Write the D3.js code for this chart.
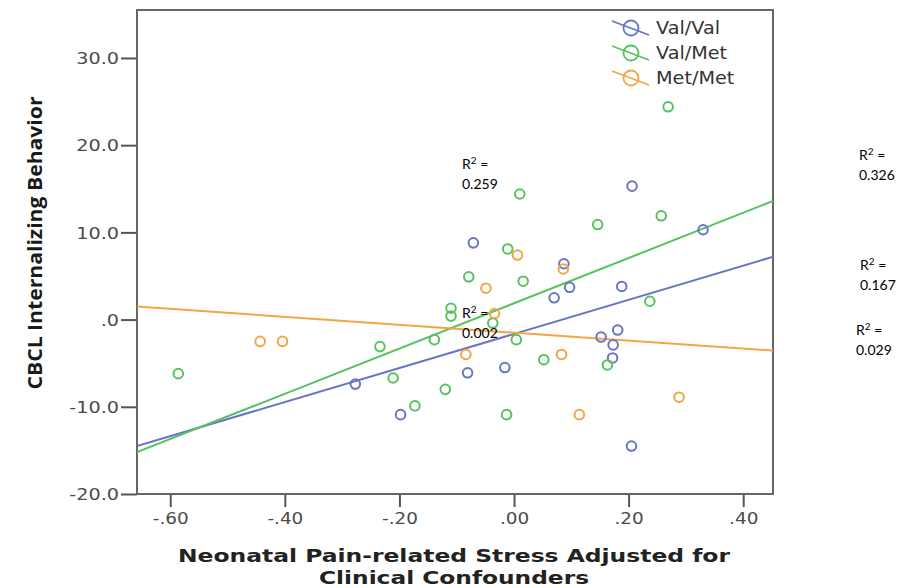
<!DOCTYPE html>
<html>
<head>
<meta charset="utf-8">
<script src="https://cdn.jsdelivr.net/npm/d3@7"></script>
<style>
  html, body { margin: 0; padding: 0; background: #fff; }
  svg { display: block; }
</style>
</head>
<body>
<svg id="chart" width="911" height="588"></svg>
<script>
// ---------------- data ----------------
const groups = ["Val/Val", "Val/Met", "Met/Met"];
const groupColors = ["#6a74c6", "#55c25f", "#f6a443"];

const valValPoints = [
  [-0.071, 8.8], [0.206, 15.3], [0.330, 10.3], [0.087, 6.4], [0.070, 2.5],
  [0.097, 3.7], [0.188, 3.8], [0.181, -1.2], [0.152, -2.0], [0.173, -2.9],
  [0.172, -4.4], [-0.016, -5.5], [-0.081, -6.1], [-0.277, -7.4], [-0.198, -10.9],
  [0.205, -14.5]
];
const valMetPoints = [
  [0.269, 24.4], [0.010, 14.4], [0.257, 11.9], [0.146, 10.9], [-0.011, 8.1],
  [-0.079, 4.9], [0.016, 4.4], [0.237, 2.1], [-0.110, 1.3], [-0.110, 0.4],
  [-0.037, -0.4], [-0.234, -3.1], [-0.139, -2.3], [0.004, -2.3], [0.052, -4.6],
  [0.163, -5.2], [-0.586, -6.2], [-0.211, -6.7], [-0.120, -8.0], [-0.173, -9.9],
  [-0.013, -10.9]
];
const metMetPoints = [
  [0.006, 7.4], [0.086, 5.8], [-0.049, 3.6], [-0.034, 0.7], [-0.443, -2.5],
  [-0.404, -2.5], [-0.084, -4.0], [0.083, -4.0], [0.114, -10.9], [0.288, -8.9]
];
const groupPoints = [valValPoints, valMetPoints, metMetPoints];

// fit lines: [intercept, slope]
const fitIntercepts = [-1.64, 1.87, -1.50];
const fitSlopes = [19.55, 25.95, -4.54];

const xTicks = [-0.6, -0.4, -0.2, 0.0, 0.2, 0.4];
const yTicks = [-20, -10, 0, 10, 20, 30];
const xDomain = [-0.658, 0.452];
const yDomain = [-20, 35.5];

const r2Labels = ["0.259", "0.002", "0.326", "0.167", "0.029"];

const xTitleLines = ["Neonatal Pain-related Stress Adjusted for", "Clinical Confounders"];
const yTitle = "CBCL Internalizing Behavior";

// ---------------- layout ----------------
const svg = d3.select("#chart");
const plot = { left: 137, top: 10, right: 773, bottom: 494 };

const x = d3.scaleLinear().domain(xDomain).range([plot.left, plot.right]);
const y = d3.scaleLinear().domain(yDomain).range([plot.bottom, plot.top]);

function stretch(sel, k) {
  sel.each(function () {
    const len = this.getComputedTextLength();
    d3.select(this).attr("textLength", len * k).attr("lengthAdjust", "spacingAndGlyphs");
  });
}

// clip
svg.append("defs").append("clipPath").attr("id", "clip")
  .append("rect").attr("x", plot.left).attr("y", plot.top)
  .attr("width", plot.right - plot.left).attr("height", plot.bottom - plot.top);

// axes (SPSS-style: no leading zero, ASCII hyphen)
const spssFmt = digits => v => {
  const s = Math.abs(v).toFixed(digits).replace(/^0\./, ".");
  return (v < 0 ? "-" : "") + s;
};
const fmtY = spssFmt(1);
const fmtX = spssFmt(2);

const yAxis = svg.append("g").attr("transform", `translate(${plot.left},0)`)
  .call(d3.axisLeft(y).tickValues(yTicks).tickFormat(fmtY).tickSize(16).tickPadding(2));
const xAxis = svg.append("g").attr("transform", `translate(0,${plot.bottom})`)
  .call(d3.axisBottom(x).tickValues(xTicks).tickFormat(fmtX).tickSize(13).tickPadding(4));

[yAxis, xAxis].forEach(a => {
  a.select(".domain").remove();
  a.selectAll(".tick line").attr("stroke", "#555").attr("stroke-width", 2);
  a.selectAll(".tick text").attr("fill", "#4a4a4a")
    .style("font-family", "'DejaVu Sans', Verdana, sans-serif").style("font-size", "16px");
});
yAxis.selectAll(".tick text").attr("dy", "0.36em");
xAxis.selectAll(".tick text").attr("dy", "0.8em");
stretch(yAxis.selectAll(".tick text"), 1.2);
stretch(xAxis.selectAll(".tick text"), 1.15);

// frame
svg.append("rect")
  .attr("x", plot.left).attr("y", plot.top)
  .attr("width", plot.right - plot.left).attr("height", plot.bottom - plot.top)
  .attr("fill", "none").attr("stroke", "#666").attr("stroke-width", 2);

// fit lines
const gLines = svg.append("g").attr("clip-path", "url(#clip)");
groups.forEach((g, i) => {
  const xs = xDomain;
  gLines.append("line")
    .attr("x1", x(xs[0])).attr("y1", y(fitIntercepts[i] + fitSlopes[i] * xs[0]))
    .attr("x2", x(xs[1])).attr("y2", y(fitIntercepts[i] + fitSlopes[i] * xs[1]))
    .attr("stroke", groupColors[i]).attr("stroke-width", 2);
});

// points
const gPts = svg.append("g").attr("clip-path", "url(#clip)");
groups.forEach((g, i) => {
  gPts.selectAll(null).data(groupPoints[i]).enter().append("circle")
    .attr("cx", d => x(d[0])).attr("cy", d => y(d[1])).attr("r", 4.8)
    .attr("fill", "none").attr("stroke", groupColors[i]).attr("stroke-width", 2);
});

// legend
const legendRows = [28, 53, 78];
groups.forEach((g, i) => {
  const cy = legendRows[i], cx = 631;
  svg.append("circle").attr("cx", cx).attr("cy", cy).attr("r", 7.5)
    .attr("fill", "none").attr("stroke", groupColors[i]).attr("stroke-width", 1.8);
  svg.append("line").attr("x1", cx - 19).attr("y1", cy - 7).attr("x2", cx + 18).attr("y2", cy + 7)
    .attr("stroke", groupColors[i]).attr("stroke-width", 1.8);
  const t = svg.append("text").attr("x", 656).attr("y", cy).attr("dy", "0.36em")
    .attr("fill", "#333").style("font-family", "'DejaVu Sans', Verdana, sans-serif")
    .style("font-size", "17px").text(g);
  stretch(t, 1.13);
});

// R² annotations
const r2Pos = [[462, 169], [462, 318], [859, 160], [860, 270], [856, 335]];
r2Labels.forEach((v, i) => {
  const [px, py] = r2Pos[i];
  const t = svg.append("text").attr("x", px).attr("y", py)
    .style("font-family", "Lato, 'Open Sans', sans-serif").style("font-size", "14px").attr("fill", "#000");
  t.append("tspan").text("R");
  t.append("tspan").attr("dy", -5).style("font-size", "10px").text("2");
  t.append("tspan").attr("dy", 5).text(" =");
  svg.append("text").attr("x", px).attr("y", py + 20)
    .style("font-family", "Lato, 'Open Sans', sans-serif").style("font-size", "14px").attr("fill", "#000")
    .text(v);
});

// axis titles
svg.append("text")
  .attr("transform", `translate(42,243) rotate(-90)`)
  .attr("text-anchor", "middle")
  .attr("fill", "#1a1a1a")
  .style("font-family", "'Open Sans', sans-serif").style("font-weight", "bold").style("font-size", "19px")
  .attr("textLength", 293).attr("lengthAdjust", "spacingAndGlyphs")
  .text(yTitle);

xTitleLines.forEach((line, i) => {
  svg.append("text").attr("x", 454).attr("y", 562 + i * 22)
    .attr("text-anchor", "middle").attr("fill", "#222")
    .style("font-family", "'DejaVu Sans', Verdana, sans-serif").style("font-weight", "bold").style("font-size", "18px")
    .attr("textLength", i === 0 ? 552 : 270).attr("lengthAdjust", "spacingAndGlyphs")
    .text(line);
});
</script>
</body>
</html>
